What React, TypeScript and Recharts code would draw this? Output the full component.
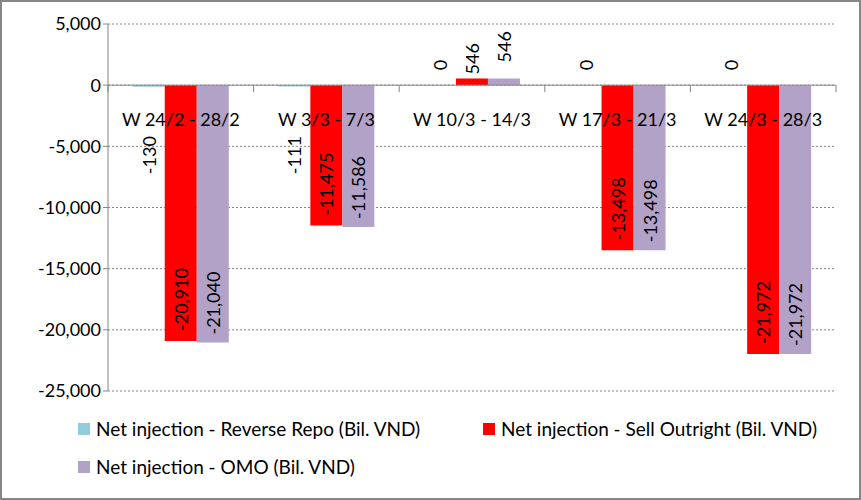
import { BarChart, Bar, XAxis, YAxis, CartesianGrid, ReferenceLine, LabelList, Legend } from "recharts";

const weeks = ["W 24/2 - 28/2", "W 3/3 - 7/3", "W 10/3 - 14/3", "W 17/3 - 21/3", "W 24/3 - 28/3"];
const reverseRepo = [-130, -111, 0, 0, 0];
const sellOutright = [-20910, -11475, 546, -13498, -21972];
const omo = [-21040, -11586, 546, -13498, -21972];
const yTicks = [5000, 0, -5000, -10000, -15000, -20000, -25000];
const seriesNames = [
  "Net injection - Reverse Repo (Bil. VND)",
  "Net injection - Sell Outright (Bil. VND)",
  "Net injection - OMO (Bil. VND)",
];
const seriesColors = ["#93CDDD", "#FF0000", "#B2A2C7"];

const data = weeks.map((week, i) => ({
  week,
  repo: reverseRepo[i],
  sell: sellOutright[i],
  omo: omo[i],
}));

const W = 861;
const H = 500;
const MARGIN = { top: 24, right: 25, left: 8, bottom: 108 };
const Y_AXIS_W = 100;
const PLOT_LEFT = MARGIN.left + Y_AXIS_W;
const PLOT_RIGHT = W - MARGIN.right;
const PLOT_TOP = MARGIN.top;
const PLOT_BOTTOM = H - MARGIN.bottom - 1;
const Y_MAX = 5000;
const Y_MIN = -25000;
const ZERO_Y = PLOT_TOP + ((PLOT_BOTTOM - PLOT_TOP) * Y_MAX) / (Y_MAX - Y_MIN);
const BAND = (PLOT_RIGHT - PLOT_LEFT) / weeks.length;
const CAT_GAP = 0.17;
const BAR_W = (BAND * (1 - 2 * CAT_GAP)) / 3;

const AXIS = "#868686";
const FONT = "Lato, sans-serif";
const FS = 18;

const fmt = (v: number) => v.toLocaleString("en-US");

function VLabel({ x, y, text }: { x: number; y: number; text: string }) {
  return (
    <text
      x={x}
      y={y}
      transform={`rotate(-90 ${x} ${y})`}
      textAnchor="start"
      dominantBaseline="central"
      fontSize={FS}
      fontFamily={FONT}
      fill="#000"
    >
      {text}
    </text>
  );
}

function CategoryTick(props: any) {
  const { x, payload, index } = props;
  const half = BAND / 2;
  const repo = reverseRepo[index];
  return (
    <g>
      <line x1={x - half} x2={x - half} y1={ZERO_Y} y2={ZERO_Y + 7} stroke={AXIS} />
      {index === weeks.length - 1 && (
        <line x1={x + half} x2={x + half} y1={ZERO_Y} y2={ZERO_Y + 7} stroke={AXIS} />
      )}
      <text x={x} y={ZERO_Y + 41} textAnchor="middle" fontSize={FS} fontFamily={FONT} fill="#000">
        {payload.value}
      </text>
      {/* zero-height repo bars get no LabelList entry, so their "0" goes here */}
      {repo === 0 && <VLabel x={x - half + CAT_GAP * BAND + BAR_W / 2} y={ZERO_Y - 15} text="0" />}
    </g>
  );
}

const makeLabel = (kind: "repo" | "main", posGap: number, negGap: number) => (props: any) => {
  const { x, y, width, height, value } = props;
  const v = Number(value);
  if (kind === "repo" && v === 0) return null;
  const cx = Number(x) + Number(width) / 2;
  const top = Math.min(Number(y), Number(y) + Number(height));
  const bottom = Math.max(Number(y), Number(y) + Number(height));
  let ay: number;
  if (kind === "repo") ay = ZERO_Y + 89;
  else if (v > 0) ay = top - posGap;
  else ay = bottom - negGap;
  return <VLabel x={cx} y={ay} text={fmt(v)} />;
};

function LegendBox() {
  return (
    <div style={{ display: "grid", gridTemplateColumns: "405px 405px", rowGap: 13, fontFamily: FONT, fontSize: 19 }}>
      {seriesNames.map((name, i) => (
        <div key={name} style={{ display: "flex", alignItems: "center", height: 25, color: "#000" }}>
          <span style={{ width: 12, height: 12, background: seriesColors[i], marginRight: 6, display: "inline-block" }} />
          <span style={{ whiteSpace: "nowrap" }}>{name}</span>
        </div>
      ))}
    </div>
  );
}

export default function App() {
  return (
    <div
      style={{
        position: "absolute",
        left: 0,
        top: 0,
        width: W,
        height: H,
        boxSizing: "border-box",
        border: `2px solid ${AXIS}`,
        background: "#fff",
      }}
    >
      <div style={{ position: "absolute", left: -2, top: -2 }}>
        <BarChart width={W} height={H} data={data} margin={MARGIN} barCategoryGap={`${CAT_GAP * 100}%`} barGap={0}>
          <CartesianGrid vertical={false} stroke={AXIS} strokeDasharray="2 2" />
          <YAxis
            width={Y_AXIS_W}
            domain={[Y_MIN, Y_MAX]}
            ticks={yTicks}
            interval={0}
            axisLine={{ stroke: AXIS }}
            tickLine={{ stroke: AXIS }}
            tickSize={5}
            tick={{ fill: "#000", fontSize: FS, fontFamily: FONT }}
            tickFormatter={(v) => fmt(Number(v))}
          />
          <Bar dataKey="repo" name={seriesNames[0]} fill={seriesColors[0]} isAnimationActive={false}>
            <LabelList dataKey="repo" content={makeLabel("repo", 4, 0)} />
          </Bar>
          <Bar dataKey="sell" name={seriesNames[1]} fill={seriesColors[1]} isAnimationActive={false}>
            <LabelList dataKey="sell" content={makeLabel("main", 4, 10)} />
          </Bar>
          <Bar dataKey="omo" name={seriesNames[2]} fill={seriesColors[2]} isAnimationActive={false}>
            <LabelList dataKey="omo" content={makeLabel("main", 16, 8)} />
          </Bar>
          <ReferenceLine y={0} stroke={AXIS} />
          <XAxis dataKey="week" height={1} axisLine={false} tickLine={false} tick={<CategoryTick />} interval={0} />
          <Legend
            layout="horizontal"
            verticalAlign="middle"
            align="center"
            wrapperStyle={{ left: 78, top: 416, width: 810, height: 80 }}
            content={<LegendBox />}
          />
        </BarChart>
      </div>
    </div>
  );
}
